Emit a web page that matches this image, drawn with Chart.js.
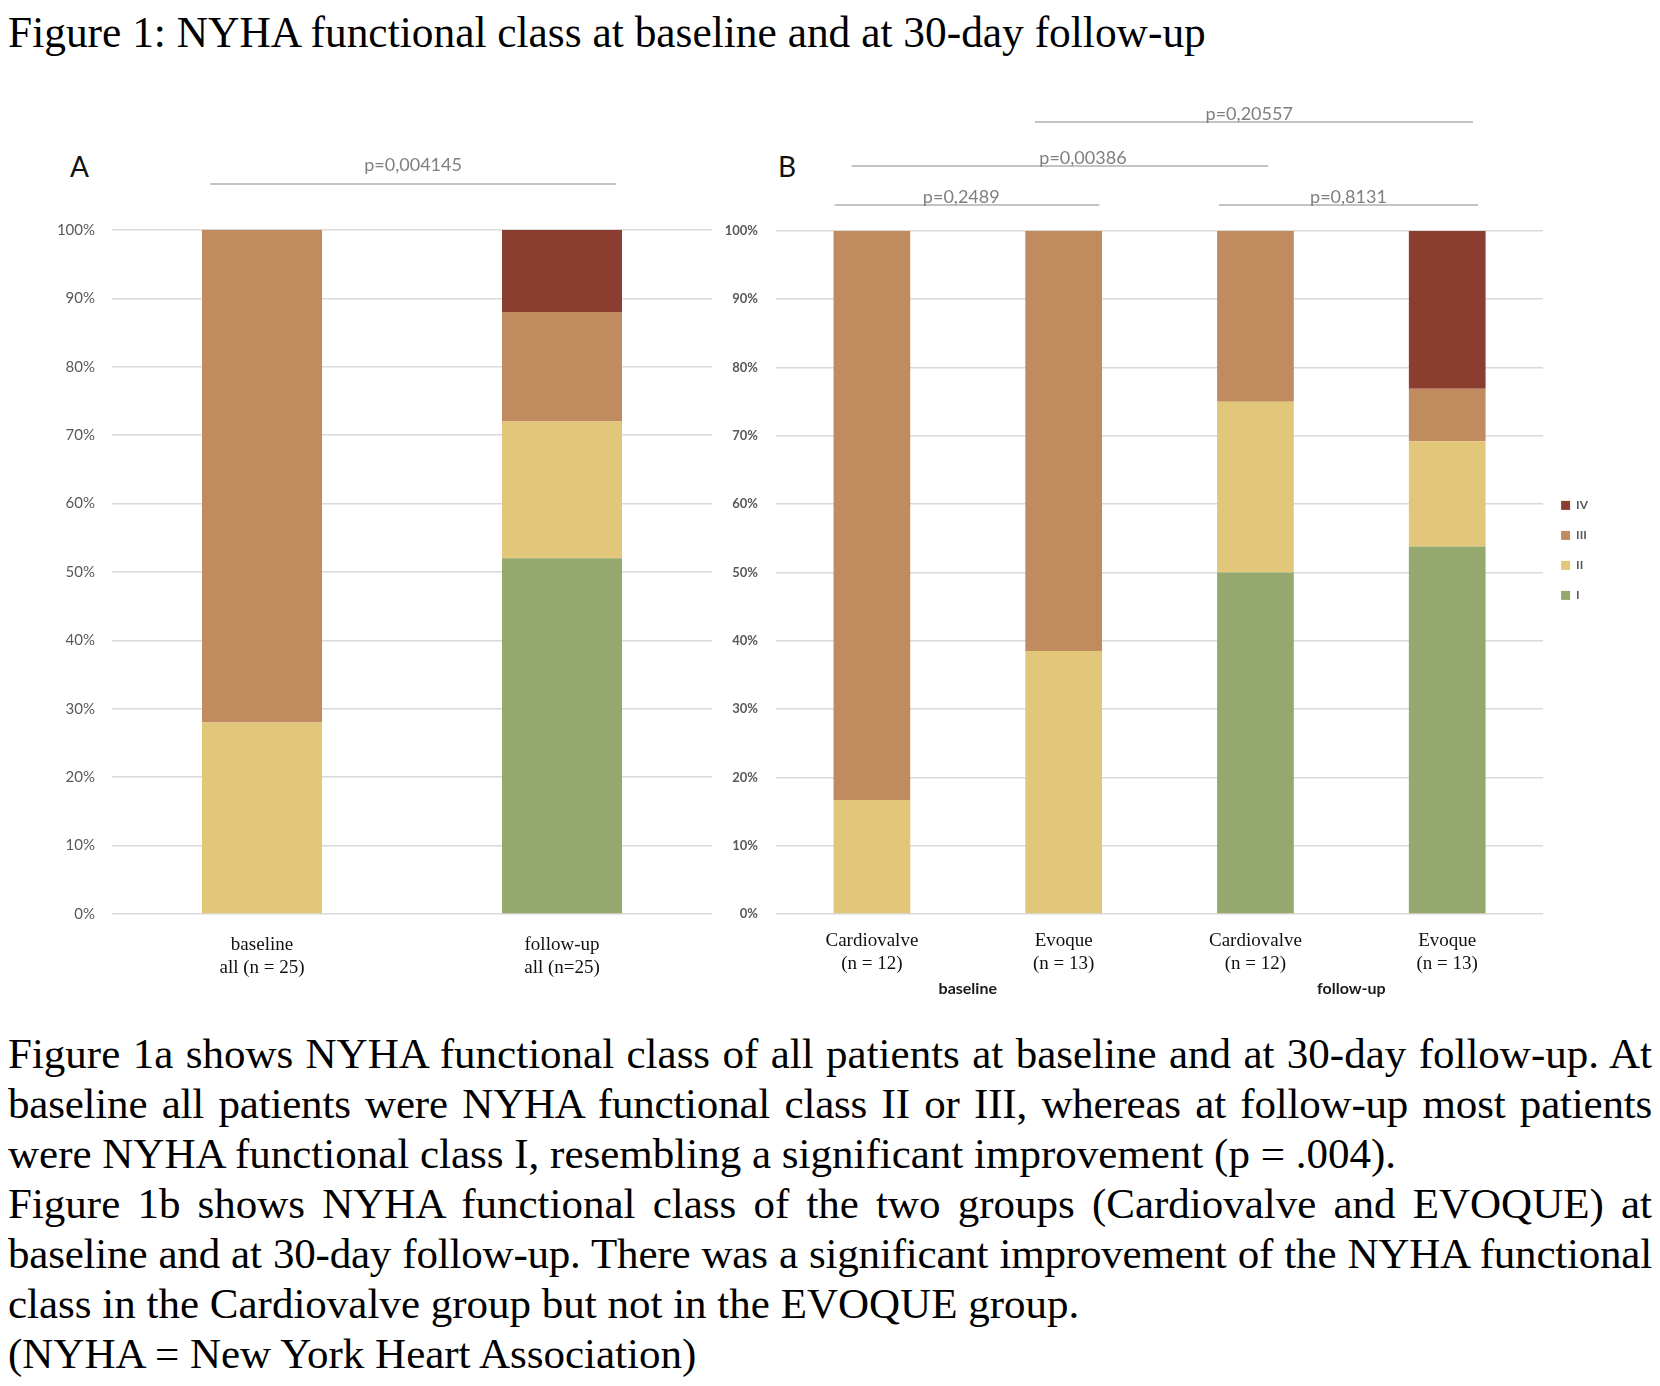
<!DOCTYPE html>
<html>
<head>
<meta charset="utf-8">
<title>Figure 1: NYHA functional class</title>
<script src="https://cdn.jsdelivr.net/npm/chart.js@4.4.1/dist/chart.umd.min.js"></script>
<style>
  html,body{margin:0;padding:0;background:#fff;}
  body{width:1660px;height:1386px;position:relative;overflow:hidden;font-family:'Liberation Serif','Times New Roman',serif;color:#000;}
  #title{position:absolute;left:8px;top:7px;font-size:43.4px;line-height:50px;white-space:nowrap;}
  .panel{position:absolute;font-family:Lato,sans-serif;font-size:28px;line-height:28px;color:#111;}
  #wrapA{position:absolute;left:0;top:0;width:740px;height:1010px;}
  #wrapB{position:absolute;left:710px;top:0;width:950px;height:1010px;}
  #caption{position:absolute;left:8px;top:1029px;width:1644px;font-size:43px;line-height:50px;}
  #caption div{white-space:nowrap;}
  #caption .j{text-align:justify;text-align-last:justify;}
  #caption .tight{letter-spacing:-0.2px;}
</style>
</head>
<body>
<div id="title">Figure 1: NYHA functional class at baseline and at 30-day follow-up</div>
<div class="panel" style="left:70px;top:152px;">A</div>
<div class="panel" style="left:778px;top:152px;">B</div>
<div id="wrapA"><canvas id="chartA"></canvas></div>
<div id="wrapB"><canvas id="chartB"></canvas></div>
<div id="caption">
  <div class="j">Figure 1a shows NYHA functional class of all patients at baseline and at 30-day follow-up. At</div>
  <div class="j tight">baseline all patients were NYHA functional class II or III, whereas at follow-up most patients</div>
  <div>were NYHA functional class I, resembling a significant improvement (p = .004).</div>
  <div class="j">Figure 1b shows NYHA functional class of the two groups (Cardiovalve and EVOQUE) at</div>
  <div class="j tight">baseline and at 30-day follow-up. There was a significant improvement of the NYHA functional</div>
  <div>class in the Cardiovalve group but not in the EVOQUE group.</div>
  <div>(NYHA = New York Heart Association)</div>
</div>
<script>
// NYHA classes, bottom of the stack first
const classes = ['I', 'II', 'III', 'IV'];
const classColors = ['#95a86e', '#e2c77a', '#bf8b5f', '#8b3e2f'];

// Panel A: all patients (%)
const catsA = [['baseline', 'all (n = 25)'], ['follow-up', 'all (n=25)']];
const aI   = [0, 52];
const aII  = [28, 20];
const aIII = [72, 16];
const aIV  = [0, 12];

// Panel B: by device (%)
const catsB = [['Cardiovalve', '(n = 12)'], ['Evoque', '(n = 13)'], ['Cardiovalve', '(n = 12)'], ['Evoque', '(n = 13)']];
const bI   = [0, 0, 50, 53.8];
const bII  = [16.7, 38.5, 25, 15.4];
const bIII = [83.3, 61.5, 25, 7.7];
const bIV  = [0, 0, 0, 23.1];
const groupsB = ['baseline', 'follow-up'];

const yTicks = [0, 10, 20, 30, 40, 50, 60, 70, 80, 90, 100];

// p-value texts
const pA = ['p=0,004145'];
const pB = ['p=0,2489', 'p=0,00386', 'p=0,8131', 'p=0,20557'];

Chart.defaults.font.family = 'Lato, "Open Sans", sans-serif';
Chart.defaults.color = '#595959';

function makeSets(series){
  return series.map((vals, i)=>({
    label: classes[i],
    data: vals,
    backgroundColor: classColors[i],
    borderWidth: 0,
    barPercentage: 0.4,
    categoryPercentage: 1
  }));
}

// brackets with p-values above the bars; offsets are in category widths
function makeBrackets(items, groups, groupY){
  return {
    id: 'pBrackets',
    afterDraw(chart){
      const {ctx, chartArea, scales: {x}} = chart;
      const w = x.getPixelForValue(1) - x.getPixelForValue(0);
      ctx.save();
      items.forEach(b=>{
        const x1 = x.getPixelForValue(b.from) + b.fromOff * w;
        const x2 = x.getPixelForValue(b.to) + b.toOff * w;
        const y = chartArea.top - b.rise;
        ctx.strokeStyle = '#c4c4c4';
        ctx.lineWidth = 2;
        ctx.beginPath();
        ctx.moveTo(x1, y);
        ctx.lineTo(x2, y);
        ctx.stroke();
        ctx.fillStyle = '#7f7f7f';
        ctx.font = '18px Lato, sans-serif';
        ctx.textAlign = 'center';
        ctx.textBaseline = 'alphabetic';
        ctx.fillText(b.text, (x1 + x2) / 2 + b.shift * w, y - b.gap);
      });
      groups.forEach((g, i)=>{
        const gx = (x.getPixelForValue(i * 2) + x.getPixelForValue(i * 2 + 1)) / 2;
        ctx.fillStyle = '#1a1a1a';
        ctx.font = 'bold 16px Lato, sans-serif';
        ctx.textAlign = 'center';
        ctx.textBaseline = 'middle';
        ctx.fillText(g, gx, groupY);
      });
      ctx.restore();
    }
  };
}

function scalesFor(yWidth, yPad, yFont, xPad){
  return {
    x: {
      stacked: true,
      grid: { display: false },
      border: { display: false },
      ticks: { color: '#111', padding: xPad, font: { family: '"Liberation Serif", "Times New Roman", serif', size: 19, lineHeight: 1.2 } },
      afterFit: (s)=>{ s.height = 96; }
    },
    y: {
      stacked: true,
      min: 0,
      max: 100,
      afterBuildTicks: (s)=>{ s.ticks = yTicks.map(v=>({ value: v })); },
      grid: { color: '#d9d9d9', lineWidth: 1.6, drawTicks: false },
      border: { display: false },
      ticks: { padding: yPad, font: yFont, callback: (v)=> v + '%' },
      afterFit: (s)=>{ s.width = yWidth; }
    }
  };
}

new Chart(document.getElementById('chartA'), {
  type: 'bar',
  data: { labels: catsA, datasets: makeSets([aI, aII, aIII, aIV]) },
  options: {
    responsive: true,
    maintainAspectRatio: false,
    animation: false,
    layout: { padding: { top: 230, right: 28, left: 0, bottom: 0 } },
    scales: scalesFor(112, 17, { size: 15 }, 12),
    plugins: { legend: { display: false }, tooltip: { enabled: false } }
  },
  plugins: [makeBrackets([
    { from: 0, fromOff: -0.173, to: 1, toOff: 0.18, rise: 46, gap: 13, shift: 0, text: pA[0] }
  ], [], 0)]
});

new Chart(document.getElementById('chartB'), {
  type: 'bar',
  data: { labels: catsB, datasets: makeSets([bI, bII, bIII, bIV]) },
  options: {
    responsive: true,
    maintainAspectRatio: false,
    animation: false,
    layout: { padding: { top: 231, right: 62, left: 0, bottom: 0 } },
    scales: scalesFor(66, 18, { size: 13, weight: 'bold' }, 8),
    plugins: {
      legend: {
        position: 'right',
        align: 'start',
        reverse: true,
        fullSize: false,
        title: { display: true, text: '', padding: { top: 236, bottom: 0 }, font: { size: 12 } },
        labels: { boxWidth: 9, boxHeight: 9, padding: 18, color: '#595959', font: { size: 12, weight: 'bold' } }
      },
      tooltip: { enabled: false }
    }
  },
  plugins: [makeBrackets([
    { from: 0, fromOff: -0.194, to: 1, toOff: 0.186, rise: 26, gap: 2, shift: -0.03, text: pB[0] },
    { from: 0, fromOff: -0.106, to: 2, toOff: 0.067, rise: 65, gap: 2, shift: 0.12, text: pB[1] },
    { from: 2, fromOff: -0.19, to: 3, toOff: 0.16, rise: 26, gap: 2, shift: 0, text: pB[2] },
    { from: 1, fromOff: -0.15, to: 3, toOff: 0.135, rise: 109, gap: 2, shift: -0.025, text: pB[3] }
  ], groupsB, 989)]
});
</script>
</body>
</html>
